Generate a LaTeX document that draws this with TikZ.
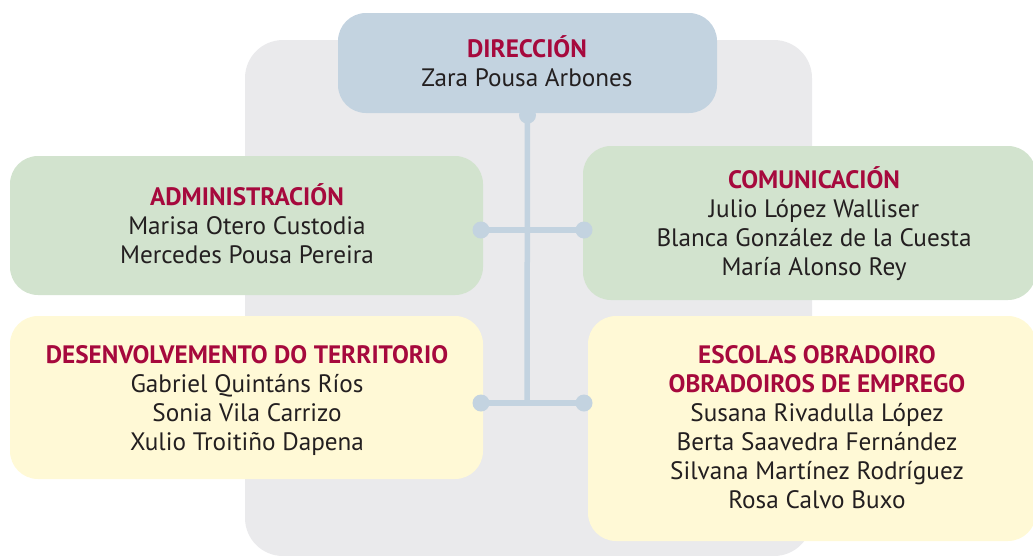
\documentclass[tikz,border=0pt]{standalone}
\usepackage{fontspec}
\setmainfont{PT Sans}
\definecolor{bgray}{HTML}{EAEAEC}
\definecolor{blueC}{HTML}{C3D3E0}
\definecolor{greenC}{HTML}{D2E3CE}
\definecolor{yellowC}{HTML}{FFF9D6}
\definecolor{titred}{HTML}{A6093D}
\definecolor{ink}{HTML}{231F20}
\newcommand\stk[1]{\vtop{\baselineskip=29pt\lineskiplimit=-1000pt\halign{\hfil##\hfil\cr#1\crcr}}}
\newcommand\ttl[1]{{\bfseries\color{titred}#1}}
\begin{document}
\begin{tikzpicture}[x=1pt,y=-1pt,
  box/.style={rounded corners=28pt, draw=none, inner sep=0pt, minimum width=#1},
  txt/.style={anchor=base, inner sep=0pt, font=\fontsize{25.2}{29}\selectfont, text=ink},
  conn/.style={draw=blueC, line width=5.5pt},
  dot/.style={fill=blueC}]
\useasboundingbox (0,0) rectangle (1033,555);
\clip (0,0) rectangle (1033,555);
% background panel
\fill[bgray, rounded corners=38pt] (245,40) rectangle (812,556);
% boxes
\node[box=379pt, fill=blueC, minimum height=100pt] (dir) at (527.5,63) {};
\node[box=473pt, fill=greenC, minimum height=139pt] (adm) at (246.5,225.5) {};
\node[box=453pt, fill=greenC, minimum height=154pt] (com) at (809.5,223) {};
\node[box=473pt, fill=yellowC, minimum height=163pt] (des) at (246.5,397.5) {};
\node[box=448pt, fill=yellowC, minimum height=225pt] (esc) at (812,428.5) {};
% connectors
\coordinate (j1) at (527,230);
\coordinate (j2) at (527,403);
\coordinate (a1) at (481,230);
\coordinate (c1) at (584,230);
\coordinate (d1) at (481,403);
\coordinate (e1) at (584,403);
\draw[conn] (dir.south) -- (j2);
\draw[conn] (a1) -- (c1);
\draw[conn] (d1) -- (e1);
\fill[dot] (dir.south) ++(0,2) circle (8.5pt);
\fill[dot] (a1) circle (8.5pt);
\fill[dot] (c1) circle (8.5pt);
\fill[dot] (d1) circle (8.5pt);
\fill[dot] (e1) circle (8.5pt);
% texts
\node[txt] (dirT) at (527,57) {\stk{\ttl{DIRECCIÓN}\cr Zara Pousa Arbones}};
\node[txt] (admT) at (247,205) {\stk{\ttl{ADMINISTRACIÓN}\cr Marisa Otero Custodia\cr Mercedes Pousa Pereira}};
\node[txt] (comT) at (814,188) {\stk{\ttl{COMUNICACIÓN}\cr Julio López Walliser\cr Blanca González de la Cuesta\cr María Alonso Rey}};
\node[txt] (desT) at (247,363) {\stk{\ttl{DESENVOLVEMENTO DO TERRITORIO}\cr Gabriel Quintáns Ríos\cr Sonia Vila Carrizo\cr Xulio Troitiño Dapena}};
\node[txt] (escT) at (817,363) {\stk{\ttl{ESCOLAS OBRADOIRO}\cr \ttl{OBRADOIROS DE EMPREGO}\cr Susana Rivadulla López\cr Berta Saavedra Fernández\cr Silvana Martínez Rodríguez\cr Rosa Calvo Buxo}};
\end{tikzpicture}
\end{document}
